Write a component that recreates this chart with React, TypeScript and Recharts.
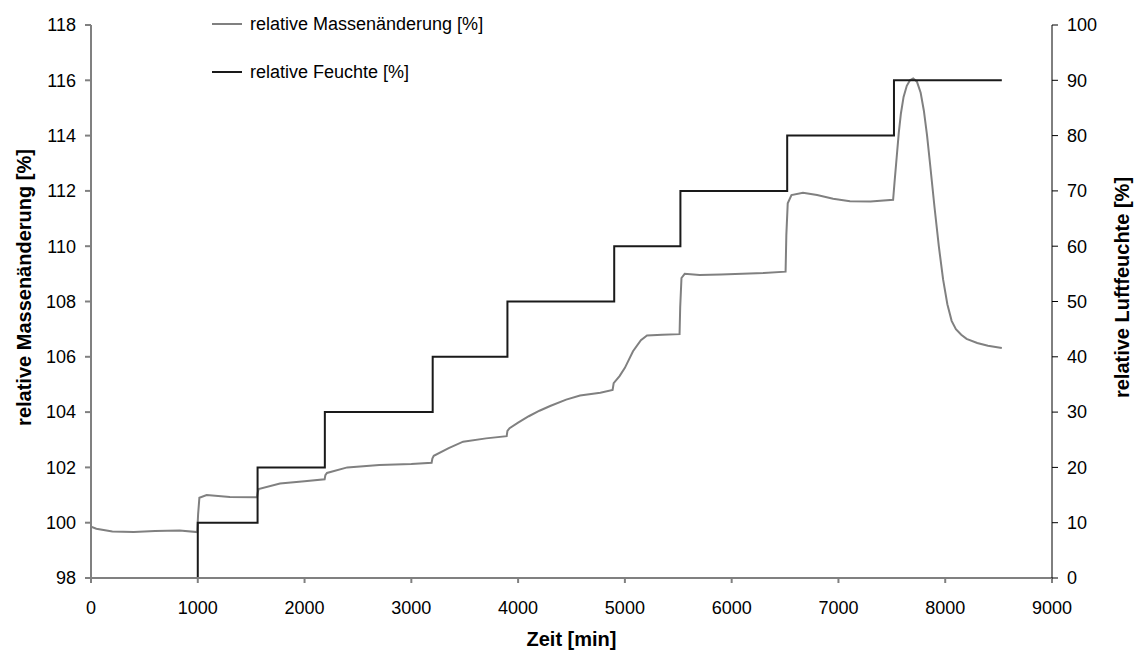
import React from 'react'
import { ComposedChart, Line, XAxis, YAxis } from 'recharts'

const FONT = '"Liberation Sans", Arial, Helvetica, sans-serif'
const GRAU = '#808080'
const SCHWARZ = '#1a1a1a'

const zeitTicks = [0, 1000, 2000, 3000, 4000, 5000, 6000, 7000, 8000, 9000]
const masseTicks = [98, 100, 102, 104, 106, 108, 110, 112, 114, 116, 118]
const feuchteTicks = [0, 10, 20, 30, 40, 50, 60, 70, 80, 90, 100]

// relative Feuchte [%] – Sollwert-Stufen
const feuchteZeit = [0, 1000, 1560, 2190, 3200, 3900, 4900, 5520, 6520, 7520, 8530]
const feuchteWerte = [0, 10, 20, 30, 40, 50, 60, 70, 80, 90, 90]

const masseZeit = [
  0, 50, 200, 400, 600, 830, 995, 1003, 1015, 1083, 1300, 1555,
  1562, 1570, 1770, 2000, 2188, 2195, 2210, 2400, 2700, 3000, 3190,
  3197, 3210, 3350, 3485, 3700, 3893, 3900, 3920, 4000, 4100, 4200, 4300, 4450, 4580, 4770, 4885,
  4895, 4950, 5000, 5076, 5150, 5207, 5350, 5512,
  5518, 5530, 5560, 5700, 5900, 6100, 6300, 6505,
  6512, 6525, 6560, 6668, 6800, 6950, 7108, 7300, 7512,
  7525, 7545, 7565, 7585, 7610, 7640, 7670, 7700, 7735, 7770, 7800, 7830, 7860, 7900, 7940, 7980, 8020,
  8060, 8100, 8150, 8200, 8300, 8400, 8530,
]
const masseWerte = [
  99.86, 99.78, 99.68, 99.66, 99.7, 99.72, 99.66, 100.3, 100.9, 101.0, 100.93, 100.92,
  101.1, 101.22, 101.42, 101.5, 101.57, 101.72, 101.8, 102.0, 102.09, 102.12, 102.17,
  102.32, 102.42, 102.7, 102.93, 103.05, 103.13, 103.32, 103.42, 103.62, 103.85, 104.05, 104.22, 104.45, 104.6, 104.7, 104.8,
  105.05, 105.3, 105.6, 106.2, 106.6, 106.77, 106.8, 106.82,
  107.8, 108.85, 109.0, 108.96, 108.98, 109.0, 109.03, 109.08,
  110.4, 111.55, 111.85, 111.93, 111.85, 111.72, 111.63, 111.62, 111.68,
  112.3, 113.2, 114.1, 114.8, 115.4, 115.8, 116.0, 116.07, 115.95, 115.55, 114.9, 114.0, 112.9, 111.4, 110.0, 108.8, 107.9,
  107.3, 107.0, 106.8, 106.65, 106.5, 106.4, 106.32,
]

const masseDaten = masseZeit.map((t, i) => ({ zeit: t, masse: masseWerte[i] }))
const feuchteDaten = feuchteZeit.map((t, i) => ({ zeit: t, feuchte: feuchteWerte[i] }))

const legendeEintraege = [
  { name: 'relative Massenänderung [%]', farbe: GRAU },
  { name: 'relative Feuchte [%]', farbe: SCHWARZ },
]

const tickStil = { fill: '#000', fontSize: 18, fontFamily: FONT }

function Titel(props: any) {
  const { viewBox, text, ax, ay, rot } = props
  if (!viewBox) return null
  const x = viewBox.x + ax
  const y = ay === 'mid' ? viewBox.y + viewBox.height / 2 - 14 : viewBox.y + ay
  return (
    <text
      x={x}
      y={y}
      textAnchor="middle"
      dominantBaseline={rot ? 'central' : 'auto'}
      transform={rot ? `rotate(${rot}, ${x}, ${y})` : undefined}
      style={{ fontFamily: FONT, fontSize: 20, fontWeight: 'bold', fill: '#000' }}
    >
      {text}
    </text>
  )
}

function Legende() {
  return (
    <div style={{ position: 'absolute', left: 212, top: 0, fontFamily: FONT, fontSize: 18, color: '#000' }}>
      {legendeEintraege.map((e, i) => (
        <div key={i} style={{ display: 'flex', alignItems: 'center', height: 48 }}>
          <span style={{ display: 'inline-block', width: 30, height: 2, background: e.farbe, marginRight: 8 }} />
          <span>{e.name}</span>
        </div>
      ))}
    </div>
  )
}

export default function App() {
  return (
    <div style={{ position: 'absolute', left: 0, top: 0, width: 1135, height: 653, background: '#fff' }}>
      <ComposedChart width={1135} height={653} margin={{ top: 25, right: 0, bottom: 0, left: 0 }}>
        <XAxis
          type="number"
          dataKey="zeit"
          domain={[0, 9000]}
          ticks={zeitTicks}
          height={75}
          tickSize={5}
          tickMargin={18}
          tick={tickStil}
          stroke={GRAU}
          strokeWidth={2}
          allowDataOverflow
          label={<Titel text="Zeit [min]" ax={480.5} ay={68} />}
        />
        <YAxis
          yAxisId="links"
          orientation="left"
          domain={[98, 118]}
          ticks={masseTicks}
          width={91}
          tickSize={6}
          tickMargin={9}
          tick={tickStil}
          stroke={GRAU}
          strokeWidth={2}
          allowDataOverflow
          label={<Titel text="relative Massenänderung [%]" ax={24} ay="mid" rot={-90} />}
        />
        <YAxis
          yAxisId="rechts"
          orientation="right"
          domain={[0, 100]}
          ticks={feuchteTicks}
          width={83}
          tickSize={6}
          tickMargin={9}
          tick={tickStil}
          stroke="#000"
          allowDataOverflow
          label={<Titel text="relative Luftfeuchte [%]" ax={70} ay="mid" rot={-90} />}
        />
        <Line
          yAxisId="links"
          data={masseDaten}
          dataKey="masse"
          type="linear"
          stroke={GRAU}
          strokeWidth={2}
          dot={false}
          isAnimationActive={false}
        />
        <Line
          yAxisId="rechts"
          data={feuchteDaten}
          dataKey="feuchte"
          type="stepAfter"
          stroke={SCHWARZ}
          strokeWidth={2}
          dot={false}
          isAnimationActive={false}
        />
      </ComposedChart>
      <Legende />
    </div>
  )
}
